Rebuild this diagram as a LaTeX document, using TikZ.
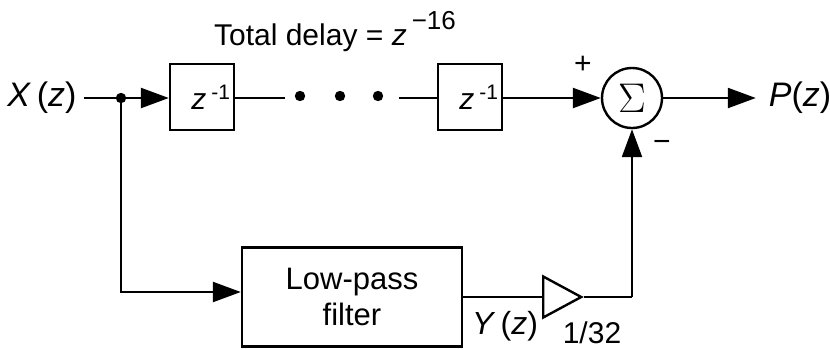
\documentclass[tikz,border=0pt]{standalone}
\usepackage{fontspec}
\setmainfont{Liberation Sans}
\usetikzlibrary{calc,arrows.meta,positioning,shapes.geometric}
\tikzset{
  ar/.style={-{Triangle[length=14pt,width=10pt]},line width=1.2pt},
  ln/.style={line width=1.2pt},
  dly/.style={draw,line width=1.2pt,minimum width=32pt,minimum height=33pt,inner sep=1pt,
    text width=29pt,align=right,font=\fontsize{15}{17}\selectfont},
  blk/.style={draw,line width=1.2pt,minimum width=110pt,minimum height=49.5pt,align=center,
    font=\fontsize{15.5}{18}\selectfont},
  sig/.style={font=\fontsize{17}{20}\selectfont},
  lbl/.style={font=\fontsize{15}{18}\selectfont}
}
\begin{document}
\begin{tikzpicture}[x=0.5pt,y=-0.5pt]
\useasboundingbox (0,0) rectangle (830,349);
% top path: delay line
\node[sig] (xin) at (42,98) {\textit{X}\,(\textit{z})};
\coordinate (split) at (121,98);
\node[dly] (d1) at (202,97) {\textit{z}\,\textsuperscript{-1}};
\coordinate (e1) at (285,98);
\foreach \x in {300,340,378}{\fill (\x,96) circle (2.6pt);}
\coordinate (e2) at (399,98);
\node[dly] (d2) at (470,97) {\textit{z}\,\textsuperscript{-1}};
\node[draw,circle,line width=1.2pt,minimum size=30pt,inner sep=0pt] (sum) at (632,98)
  {\fontsize{20}{20}\selectfont$\Sigma$};
\node[sig] (out) at (800,98) {\textit{P}(\textit{z})};
\node[lbl] (tot) at (335,32) {Total delay = \textit{z}\,\raisebox{8pt}{\fontsize{13}{13}\selectfont\textminus16}};
\node[lbl] (plus) at (583,65) {+};
\node[lbl] (minus) at (662,146) {\textminus};
% bottom path: filter and gain
\node[blk] (lpf) at (352,297) {Low-pass\\filter};
\node[draw,isosceles triangle,isosceles triangle stretches,line width=1.2pt,
  minimum width=20.5pt,minimum height=19pt,inner sep=0pt,anchor=west] (gain) at (542,297) {};
\node[sig,font=\fontsize{16}{18}\selectfont] (ylab) at (505,326) {\textit{Y}\,(\textit{z})};
\node[lbl] (glab) at (592,333) {1/32};
\coordinate (corner) at (sum.south |- gain.east);
% connectors
\draw[ln] (xin.east) -- (split);
\fill (split) circle (2.6pt);
\draw[ar] (split) -- (d1.west |- split);
\draw[ln] (d1.east |- e1) -- (e1);
\draw[ln] (e2) -- (d2.west |- e2);
\draw[ar] (d2.east |- sum) -- (sum.west);
\draw[ar] (sum.east) -- ($(out.west)+(-6,0)$);
\draw[ar] (split) |- ($(lpf.west)+(0,-5)$);
\draw[ln] (lpf.east) -- (gain.west);
\draw[ln] (gain.east) -- (corner);
\draw[ar] (corner) -- (sum.south);
\end{tikzpicture}
\end{document}
